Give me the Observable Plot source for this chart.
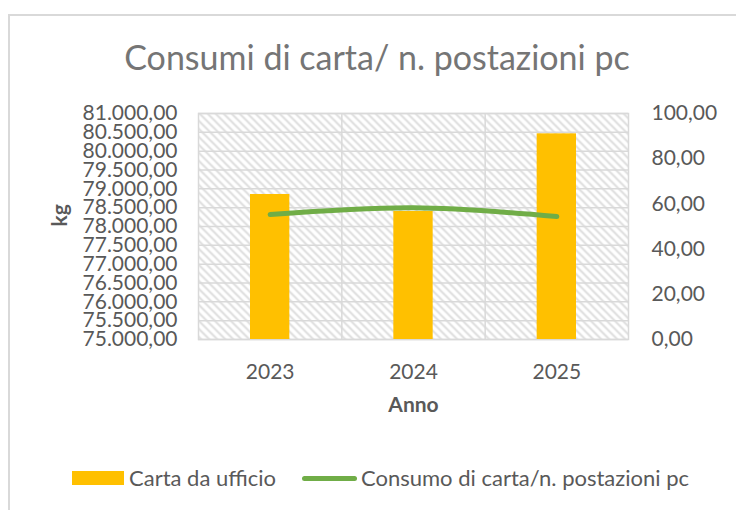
<!DOCTYPE html>
<html><head><meta charset="utf-8">
<script src="https://cdn.jsdelivr.net/npm/d3@7"></script>
<script src="https://cdn.jsdelivr.net/npm/@observablehq/plot@0.6"></script>
<style>
html,body{margin:0;padding:0;background:#fff;overflow:hidden;}
#wrap{position:relative;width:736px;height:510px;font-family:Lato,"Open Sans",sans-serif;color:#595959;}
#border{position:absolute;left:8px;top:14px;width:800px;height:600px;border:2px solid #d9d9d9;box-sizing:border-box;}
#title{position:relative;height:90px;box-sizing:border-box;padding-top:38px;padding-left:18px;text-align:center;font-size:34px;line-height:38px;color:#757575;white-space:nowrap;}
#chart{position:relative;height:350px;}
#chart svg{display:block;}
#legend{position:relative;height:70px;font-size:22px;}
.sw{position:absolute;}
.lt{position:absolute;top:24px;line-height:28px;white-space:nowrap;}
</style>
</head><body>
<div id="wrap">
<div id="border"></div>
<div id="title">Consumi di carta/ n. postazioni pc</div>
<div id="chart"></div>
<div id="legend">
  <div class="sw" style="left:72px;top:31px;width:52px;height:14px;background:#FFC000"></div>
  <div class="lt" style="left:129px">Carta da ufficio</div>
  <div class="sw" style="left:302px;top:36px;width:55px;height:4.5px;border-radius:3px;background:#70AD47"></div>
  <div class="lt" style="left:361px">Consumo di carta/n. postazioni pc</div>
</div>
</div>
<script>
const years = [2023, 2024, 2025];
const cartaUfficio = [78850, 78400, 80460];          // kg (left axis)
const consumoPerPostazione = [55.3, 58.3, 54.4];     // right axis
const leftTicks = [75000, 75500, 76000, 76500, 77000, 77500, 78000, 78500, 79000, 79500, 80000, 80500, 81000];
const rightTicks = [0, 20, 40, 60, 80, 100];
const leftDomain = [75000, 81000];
const rightDomain = [0, 100];

const data = years.map((y, i) => ({year: y, carta: cartaUfficio[i], consumo: consumoPerPostazione[i]}));
const k = (leftDomain[1] - leftDomain[0]) / (rightDomain[1] - rightDomain[0]);
const toLeft = v => leftDomain[0] + (v - rightDomain[0]) * k;
const fromLeft = v => rightDomain[0] + (v - leftDomain[0]) / k;
const fmt = d3.formatLocale({decimal: ",", thousands: ".", grouping: [3], currency: ["", "€"]}).format(",.2f");
const boundaries = years.slice(1).map(y => y - 0.5);

const svg = Plot.plot({
  width: 736, height: 350,
  marginTop: 23, marginBottom: 101, marginLeft: 198, marginRight: 108,
  style: {fontFamily: "Lato, 'Open Sans', sans-serif", fontSize: "21px", color: "#595959", background: "transparent", overflow: "visible"},
  x: {domain: [years[0] - 0.5, years[years.length - 1] + 0.5]},
  y: {domain: leftDomain},
  marks: [
    Plot.frame({fill: "url(#hatch)"}),
    Plot.gridY(leftTicks, {stroke: "#d9d9d9", strokeOpacity: 1, strokeWidth: 1.5}),
    Plot.ruleX(boundaries, {stroke: "#d9d9d9", strokeWidth: 1.5}),
    Plot.frame({stroke: "#d9d9d9", strokeWidth: 1.5}),
    Plot.rectY(data, {x1: d => d.year - 0.5, x2: d => d.year + 0.5, y1: leftDomain[0], y2: "carta", fill: "#FFC000", insetLeft: 52, insetRight: 52}),
    Plot.line(data, {x: "year", y: d => toLeft(d.consumo), stroke: "#70AD47", strokeWidth: 5, curve: "catmull-rom"}),
    Plot.axisY(leftTicks, {anchor: "left", tickSize: 0, tickPadding: 21, tickFormat: fmt, label: null}),
    Plot.axisY(rightTicks.map(toLeft), {anchor: "right", tickSize: 0, tickPadding: 23, tickFormat: v => fmt(fromLeft(v)), label: null}),
    Plot.axisX(years, {anchor: "bottom", tickSize: 0, tickPadding: 25, tickFormat: d => String(d), label: null}),
    Plot.text(["kg"], {frameAnchor: "left", dx: -138, rotate: -90, fontWeight: "bold", fontSize: 21, fill: "#595959"}),
    Plot.text(["Anno"], {frameAnchor: "bottom", dy: 72, fontWeight: "bold", fontSize: 21, fill: "#595959"})
  ]
});

const defs = d3.select(svg).insert("defs", ":first-child");
const pat = defs.append("pattern").attr("id", "hatch").attr("patternUnits", "userSpaceOnUse").attr("width", 8).attr("height", 8);
pat.append("rect").attr("width", 8).attr("height", 8).attr("fill", "white");
pat.append("path").attr("d", "M-2,-2L10,10M-2,6L2,10M6,-2L10,2").attr("stroke", "#dedede").attr("stroke-width", 2);

document.getElementById("chart").appendChild(svg);
</script>
</body></html>
